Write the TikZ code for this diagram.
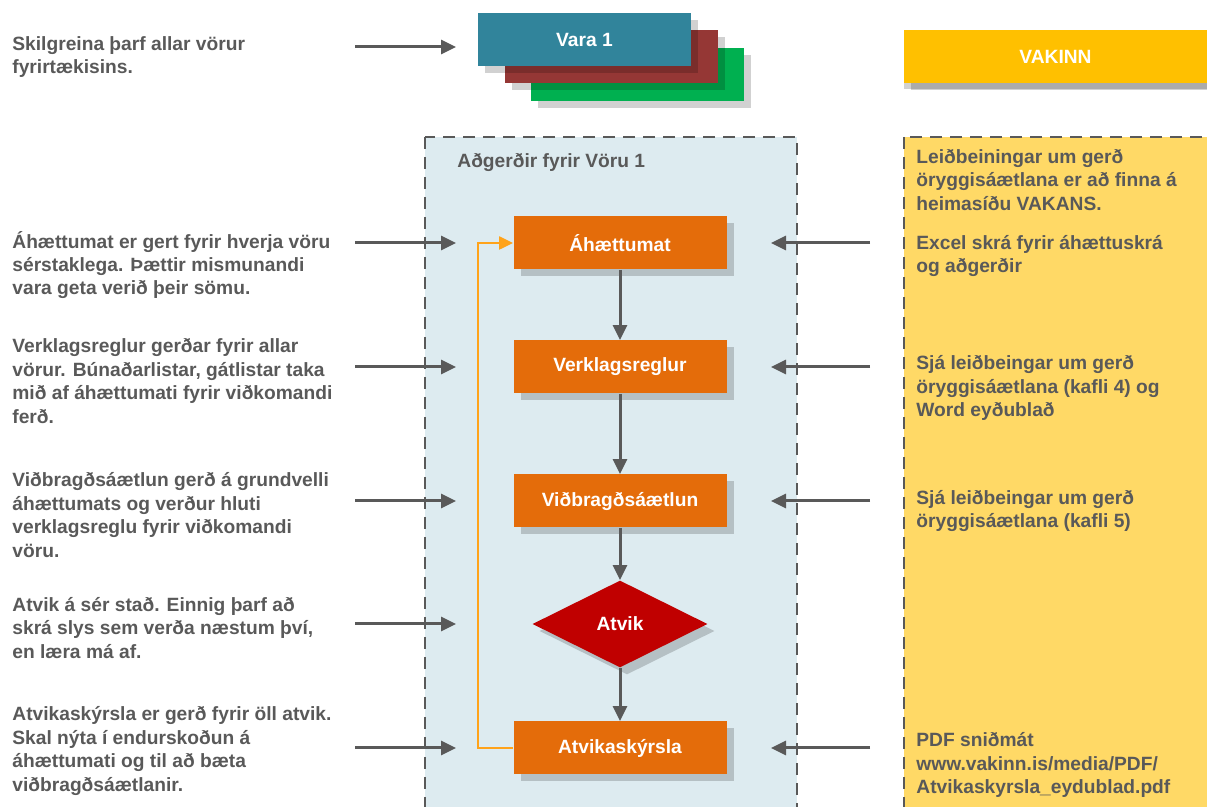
\documentclass[tikz,border=0pt]{standalone}
\usepackage{fontspec}
\setmainfont{Liberation Sans}
\usetikzlibrary{arrows.meta,shapes.geometric,shadows}
\definecolor{txtgray}{HTML}{595959}
\definecolor{varablue}{HTML}{31849B}
\definecolor{varared}{HTML}{953735}
\definecolor{varagreen}{HTML}{00B050}
\definecolor{vakgold}{HTML}{FFC000}
\definecolor{vakpanel}{HTML}{FFD966}
\definecolor{actpanel}{HTML}{DDEBF0}
\definecolor{steporange}{HTML}{E46C0A}
\definecolor{atvikred}{HTML}{C00000}
\definecolor{fborange}{HTML}{FFA31A}

\begin{document}
\begin{tikzpicture}[x=0.5pt,y=-0.5pt]
        \tikzset{boxfont/.style = {font=\fontsize{9.6}{11.7}\selectfont\bfseries}};
        \tikzset{shade box/.style = {drop shadow={shadow xshift=3.5pt,shadow yshift=-3.5pt,fill=black,opacity=.18}}};
        \tikzset{prodbox/.style = {boxfont,shade box,text=white,minimum width=106.5pt,minimum height=26.5pt,inner sep=0pt}};
        \tikzset{stepbox/.style = {prodbox,fill=steporange}};
        \tikzset{decision/.style = {diamond,aspect=2,boxfont,shade box,fill=atvikred,text=white,minimum width=87.5pt,minimum height=43.5pt,inner sep=0pt}};
        \tikzset{info/.style = {boxfont,text=txtgray,align=left,anchor=west,inner sep=0pt}};
        \tikzset{panel/.style = {draw=txtgray,line width=1.2pt,dash pattern=on 6pt off 4pt}};
        \tikzset{edge/.style = {->,> = {Triangle[length=7.5pt,width=7pt]},draw=txtgray,line width=1.5pt}};
        \tikzset{feedback/.style = {->,> = {Triangle[length=7pt,width=6.5pt]},draw=fborange,line width=1.1pt}};
        \useasboundingbox (0,0) rectangle (1207,807);
        % panels
        \draw[panel,fill=actpanel] (425,137) rectangle (797,820);
        \draw[panel,fill=vakpanel] (904,137) rectangle (1220,820);
        \node[info] (actlabel) at (457,162) {Aðgerðir fyrir Vöru 1};
        % products
        \node[prodbox,fill=varagreen] (vara3) at (637.5,74.5) {};
        \node[prodbox,fill=varared] (vara2) at (611,57) {};
        \node[prodbox,fill=varablue] (vara1) at (584.5,39.5) {Vara 1};
        \node[prodbox,fill=vakgold,minimum width=151.5pt,drop shadow={shadow xshift=0pt,shadow yshift=-3pt,fill=black,opacity=.18}] (vakinn) at (1055.5,56.5) {VAKINN};
        % steps
        \node[stepbox] (ahaettumat) at (620,243) {Áhættumat};
        \node[stepbox] (verklag) at (620,367) {Verklagsreglur};
        \node[stepbox] (vidbragd) at (620,501) {Viðbragðsáætlun};
        \node[decision] (atvik) at (620,624) {Atvik};
        \node[stepbox] (skyrsla) at (620,748) {Atvikaskýrsla};
        \draw[edge] (ahaettumat) to (verklag);
        \draw[edge] (verklag) to (vidbragd);
        \draw[edge] (vidbragd) to (atvik);
        \draw[edge] (atvik) to (skyrsla);
        \draw[feedback] (skyrsla.west) -- ++(-35,0) |- (ahaettumat.west);
        % left texts
        \node[info] (t0) at (12,57) {Skilgreina þarf allar vörur\\fyrirtækisins.};
        \node[info] (t1) at (12,265) {Áhættumat er gert fyrir hverja vöru\\sérstaklega. Þættir mismunandi\\vara geta verið þeir sömu.};
        \node[info] (t2) at (12,381) {Verklagsreglur gerðar fyrir allar\\vörur. Búnaðarlistar, gátlistar taka\\mið af áhættumati fyrir viðkomandi\\ferð.};
        \node[info] (t3) at (12,515) {Viðbragðsáætlun gerð á grundvelli\\áhættumats og verður hluti\\verklagsreglu fyrir viðkomandi\\vöru.};
        \node[info] (t4) at (12,628) {Atvik á sér stað. Einnig þarf að\\skrá slys sem verða næstum því,\\en læra má af.};
        \node[info] (t5) at (12,751) {Atvikaskýrsla er gerð fyrir öll atvik.\\Skal nýta í endurskoðun á\\áhættumati og til að bæta\\viðbragðsáætlanir.};
        % right texts
        \node[info] (r0) at (916,180) {Leiðbeiningar um gerð\\öryggisáætlana er að finna á\\heimasíðu VAKANS.};
        \node[info] (r1) at (916,256) {Excel skrá fyrir áhættuskrá\\og aðgerðir};
        \node[info] (r2) at (916,388) {Sjá leiðbeingar um gerð\\öryggisáætlana (kafli 4) og\\Word eyðublað};
        \node[info] (r3) at (916,511) {Sjá leiðbeingar um gerð\\öryggisáætlana (kafli 5)};
        \node[info] (r4) at (916,765) {PDF sniðmát\\www.vakinn.is/media/PDF/\\Atvikaskyrsla\_eydublad.pdf};
        % arrow ends
        \coordinate (l0) at (355,47);   \coordinate (m0) at (456,47);
        \coordinate (l1) at (355,243);  \coordinate (m1) at (456,243);
        \coordinate (l2) at (355,367);  \coordinate (m2) at (456,367);
        \coordinate (l3) at (355,501);  \coordinate (m3) at (456,501);
        \coordinate (l4) at (355,624);  \coordinate (m4) at (456,624);
        \coordinate (l5) at (355,748);  \coordinate (m5) at (456,748);
        \coordinate (q1) at (870,243);  \coordinate (p1) at (771,243);
        \coordinate (q2) at (870,367);  \coordinate (p2) at (771,367);
        \coordinate (q3) at (870,501);  \coordinate (p3) at (771,501);
        \coordinate (q5) at (870,748);  \coordinate (p5) at (771,748);
        \draw[edge] (l0) to (m0);
        \draw[edge] (l1) to (m1);
        \draw[edge] (l2) to (m2);
        \draw[edge] (l3) to (m3);
        \draw[edge] (l4) to (m4);
        \draw[edge] (l5) to (m5);
        \draw[edge] (q1) to (p1);
        \draw[edge] (q2) to (p2);
        \draw[edge] (q3) to (p3);
        \draw[edge] (q5) to (p5);
    \end{tikzpicture}
\end{document}
